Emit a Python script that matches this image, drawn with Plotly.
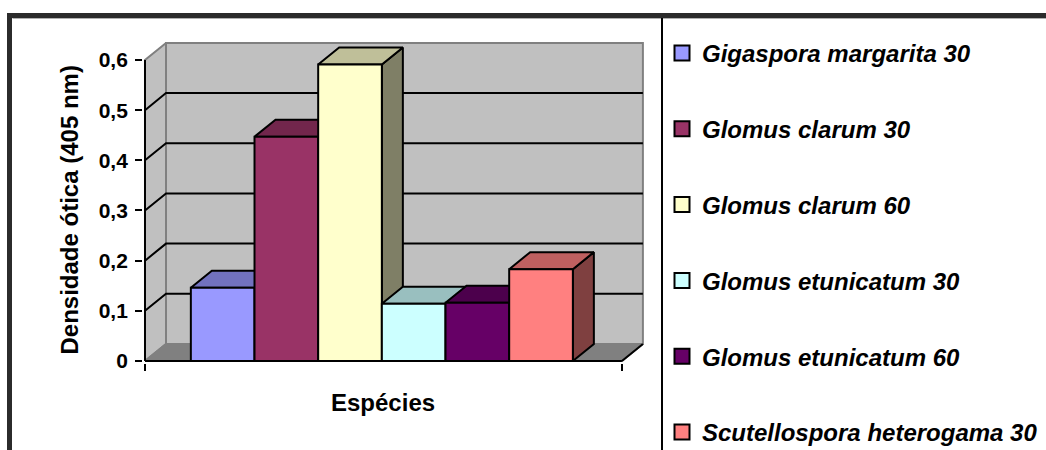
import plotly.graph_objects as go

# ---------------- data ----------------
species = ["Gigaspora margarita 30", "Glomus clarum 30", "Glomus clarum 60",
           "Glomus etunicatum 30", "Glomus etunicatum 60", "Scutellospora heterogama 30"]
densidade = [0.146, 0.447, 0.591, 0.114, 0.116, 0.183]
colors = ["#9999FF", "#993366", "#FFFFCC", "#CCFFFF", "#660066", "#FF8080"]
y_ticks = [0, 0.1, 0.2, 0.3, 0.4, 0.5, 0.6]
y_tick_text = ["0", "0,1", "0,2", "0,3", "0,4", "0,5", "0,6"]
grid_values = [0.1, 0.2, 0.3, 0.4, 0.5]
x_title = "Espécies"
y_title = "Densidade ótica (405 nm)"

# ---------------- geometry (category units / value units) ----------------
W, H = 1046, 450
X0, XR = -1.22, 6.27      # front floor edges
DX, DY = 0.33, 0.034      # 3D depth offset
YTOP = 0.6
PXU_X, PXU_Y = 63.67, 501.7
AX_PX, Y0_PX = 145, 361
EPS_X, EPS_Y = 0.03, 0.003
x_min, x_max = X0 - EPS_X, XR + DX + EPS_X
y_min, y_max = -EPS_Y, 0.64

dom_x = [(AX_PX - EPS_X * PXU_X) / W, (AX_PX + (x_max - X0) * PXU_X) / W]
dom_y = [1 - (Y0_PX - y_min * PXU_Y) / H, 1 - (Y0_PX - y_max * PXU_Y) / H]

FONT = "Liberation Sans, Arial, sans-serif"
LEG_FONT = 24
ITEM_H = LEG_FONT * 1.3 + 3
ITEM_STEP = 75.8


def shade(hexc, f):
    hexc = hexc.lstrip("#")
    r, g, b = (int(hexc[i:i + 2], 16) for i in (0, 2, 4))
    return "rgb(%d,%d,%d)" % (int(r * f), int(g * f), int(b * f))


def poly(xs, ys, fill, line="black", width=2):
    return go.Scatter(x=xs + [xs[0]], y=ys + [ys[0]], mode="lines", fill="toself",
                      fillcolor=fill, line=dict(color=line, width=width),
                      showlegend=False, hoverinfo="skip")


def seg(xs, ys, color="black", width=2):
    return go.Scatter(x=xs, y=ys, mode="lines", line=dict(color=color, width=width),
                      showlegend=False, hoverinfo="skip")


fig = go.Figure()

# walls
fig.add_trace(poly([X0, X0, X0 + DX, X0 + DX], [0, YTOP, YTOP + DY, DY], "#C0C0C0", "#808080"))
fig.add_trace(poly([X0 + DX, XR + DX, XR + DX, X0 + DX], [DY, DY, YTOP + DY, YTOP + DY], "#C0C0C0", "#808080"))
# gridlines
for v in grid_values:
    fig.add_trace(seg([X0, X0 + DX, XR + DX], [v, v + DY, v + DY]))
# floor
fig.add_trace(poly([X0, XR, XR + DX, X0 + DX], [0, 0, DY, DY], "#808080", "#808080"))
fig.add_trace(seg([XR, XR + DX], [0, DY]))

# bars (painter's order, left to right)
for i, (v, c) in enumerate(zip(densidade, colors)):
    l, r = i - 0.5, i + 0.5
    fig.add_trace(poly([r, r, r + DX, r + DX], [0, v, v + DY, DY], shade(c, 0.5)))
    fig.add_trace(poly([l, r, r + DX, l + DX], [v, v, v + DY, v + DY], shade(c, 0.75)))
    fig.add_trace(poly([l, r, r, l], [0, 0, v, v], c))

# front axes lines
fig.add_trace(seg([X0, X0], [0, YTOP]))
fig.add_trace(seg([X0, XR], [0, 0]))

# legend entries (split over two legend boxes so the tall column fits)
for k, (name, c) in enumerate(zip(species, colors)):
    fig.add_trace(go.Scatter(x=[None], y=[None], mode="markers", name=name, legendgroup=name,
                             legend="legend" if k < 3 else "legend2",
                             marker=dict(symbol="square", size=15, color=c,
                                         line=dict(color="black", width=2))))

leg_common = dict(x=662 / W, xanchor="left", yanchor="top", traceorder="grouped",
                  tracegroupgap=ITEM_STEP - ITEM_H, bgcolor="rgba(0,0,0,0)",
                  font=dict(size=LEG_FONT, family=FONT, weight="bold", style="italic"))
first_center = [53, 280.5]

fig.update_layout(
    width=W, height=H,
    margin=dict(l=0, r=0, t=0, b=0, autoexpand=False),
    paper_bgcolor="white", plot_bgcolor="white",
    font=dict(family=FONT, color="black"),
    xaxis=dict(domain=dom_x, range=[x_min, x_max], showgrid=False, zeroline=False,
               showline=False, tickmode="array", tickvals=[X0, XR], ticktext=["", ""],
               ticks="outside", ticklen=7, tickwidth=2, tickcolor="black", fixedrange=True,
               automargin=False),
    yaxis=dict(domain=dom_y, range=[y_min, y_max], showgrid=False, zeroline=False,
               showline=False, tickmode="array", tickvals=y_ticks, ticktext=y_tick_text,
               ticks="outside", ticklen=7, tickwidth=2, tickcolor="black",
               tickfont=dict(size=21, family=FONT, weight="bold"), ticklabelstandoff=3,
               fixedrange=True, automargin=False),
    showlegend=True,
    legend=dict(leg_common, y=1 - (first_center[0] - 5 - ITEM_H / 2) / H),
    legend2=dict(leg_common, y=1 - (first_center[1] - 5 - ITEM_H / 2) / H),
    annotations=[
        dict(text=y_title, xref="paper", yref="y", x=69 / W, y=0.3, textangle=-90,
             xanchor="center", yanchor="middle",
             showarrow=False, font=dict(size=24, family=FONT, weight="bold")),
        dict(text=x_title, xref="x", yref="paper", x=(X0 + XR) / 2, y=1 - 402 / H,
             xanchor="center", yanchor="middle",
             showarrow=False, font=dict(size=24, family=FONT, weight="bold")),
    ],
    shapes=[
        dict(type="line", xref="paper", yref="paper", x0=7 / W, x1=1.02, y0=1 - 15.5 / H, y1=1 - 15.5 / H,
             line=dict(color="#2b2b2b", width=5)),
        dict(type="line", xref="paper", yref="paper", x0=9.5 / W, x1=9.5 / W, y0=1 - 13 / H, y1=-0.02,
             line=dict(color="#2b2b2b", width=5)),
        dict(type="line", xref="paper", yref="paper", x0=12.5 / W, x1=1.02, y0=1 - 18.5 / H, y1=1 - 18.5 / H,
             line=dict(color="#b0b0b0", width=1)),
        dict(type="line", xref="paper", yref="paper", x0=662 / W, x1=662 / W, y0=1 - 18 / H, y1=-0.02,
             line=dict(color="black", width=2)),
    ],
)

fig.write_html("out.html", config={"displayModeBar": False},
               post_script="document.body.style.margin='0';document.body.style.overflow='hidden';")
